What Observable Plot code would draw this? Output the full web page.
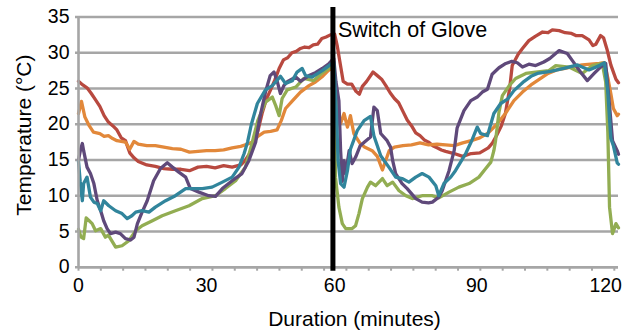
<!DOCTYPE html>
<html><head><meta charset="utf-8">
<script src="https://cdn.jsdelivr.net/npm/d3@7"></script>
<script src="https://cdn.jsdelivr.net/npm/@observablehq/plot@0.6"></script>
<style>html,body{margin:0;padding:0;background:#fff}#chart svg{display:block}</style>
</head><body><div id="chart"></div>
<script>
// [time (axis units), temperature °C]
const seriesRed = [[0,26],[1,25.5],[2,25.1],[3,24.3],[4,23.4],[5,22.5],[6,21.2],[7,20.3],[8,19.8],[9,19.2],[10,18.1],[11,17.7],[12,16.0],[13,15.3],[14,14.8],[16,14.3],[18,14.1],[20,13.8],[22,13.7],[24,13.7],[26,13.5],[28,14.0],[30,14.1],[32,13.9],[34,14.2],[36,14.0],[38,14.3],[39,14.9],[40,15.8],[41,17],[42,19],[43,21.5],[44,23.5],[45,24.8],[46,26.2],[47,27.8],[48,29],[49,29.3],[50,30],[51,30.2],[52,30.6],[53,30.8],[54,30.7],[55,31.1],[56,31.2],[57,32],[58,32.2],[59,32.5],[60,32.6],[60.6,31],[61.3,28.5],[62,26],[63,25.6],[64,25.6],[65,24.6],[65.8,24.2],[66.5,25.3],[67.5,26],[69,27.3],[70,26.8],[71,26.3],[72,25.4],[73,24.4],[74,23.6],[75,23],[76,21.8],[77,20.6],[78,19.8],[79,18.8],[80,18.4],[81,17.8],[82,17.5],[83,17],[84,16.7],[85,16.4],[86,16.2],[88,15.9],[90,15.5],[92,15.9],[94,16.0],[96,16.7],[97,17.4],[98,18.5],[99,19.7],[100,21.5],[101,25],[101.6,28.2],[103,29.8],[104,30.6],[105.5,31.7],[107,32.3],[108.7,32.9],[110,32.8],[111,33.2],[112.6,33.1],[114,32.8],[115.5,32.7],[116.5,32.4],[118,32.4],[119.6,31.8],[120.5,31],[121.2,31.2],[122.3,32.4],[123,32.1],[123.8,30.5],[124.7,28.3],[125.9,26.3],[126.5,25.8]];
const seriesOrange = [[0,21.5],[0.7,23.2],[1.5,21],[2.5,19.8],[3.5,18.9],[5,18.7],[6,18.3],[7,18.4],[8,18],[9,17.7],[10,17.6],[11,17.5],[12,16.5],[13,17.6],[14,17.2],[16,17.0],[18,17.0],[20,16.8],[22,16.6],[24,16.5],[26,16.1],[28,16.2],[30,16.3],[32,16.3],[34,16.4],[36,16.7],[38,16.9],[40,17.3],[41,17.6],[42,18.3],[43.5,18.9],[45,19.0],[46.5,19.2],[47.5,20.5],[48.5,22.2],[50,23.2],[52,24.5],[54,25.4],[55.5,25.9],[57,26.6],[58.5,27.5],[59.8,28],[60.4,24],[60.8,21.8],[61.4,20.1],[62.2,21.5],[63,19.6],[63.7,21.2],[64.5,18.7],[66,17.3],[67,16.8],[68.8,16.3],[70,15.5],[71.2,13.6],[72,15],[72.8,16.3],[74,16.8],[76,17.0],[78,17.1],[80,17.4],[82,17.1],[84,17.2],[86,17.1],[88,17.0],[90,17.4],[92,17.7],[94,18.1],[96,18.8],[98,20],[100,21.5],[102,23.3],[104,24.5],[106,25.5],[108,26.3],[110,27.1],[112,27.6],[114,27.8],[116,28.1],[118,28.3],[120,28.4],[122,28.5],[123.2,28.6],[124,26.5],[124.7,24.3],[125.3,22.2],[126.2,21.2],[126.5,21.4]];
const seriesPurple = [[0,15],[0.5,16.5],[0.9,17.3],[1.2,16.3],[2,14],[2.8,13.1],[3.6,11.7],[4.4,9.3],[5.2,7.9],[5.9,6.5],[6.7,5.4],[7.5,4.7],[8.7,4.9],[9.8,4.7],[11,4.0],[12.2,3.8],[13,4.2],[13.8,6.1],[14.9,7.7],[16.1,9.3],[17.6,12.1],[19.2,13.8],[20.8,14.6],[22,14.0],[23.5,13.3],[25.1,12.6],[26.2,11.0],[28.2,10.5],[30.5,10.0],[32.1,9.9],[33.7,11.0],[36,12.1],[38.3,13.1],[39.9,14.9],[41.5,17.5],[42.5,21],[43.8,24.5],[44.9,26.8],[45.8,27.3],[46.6,25.9],[47.3,24.3],[48.1,25.4],[49,26],[50.9,26.6],[52,26],[54,26.8],[55.5,27.2],[57.1,27.8],[58.7,28.5],[59.8,29.2],[60.3,26],[61,23.3],[61.4,16.3],[61.8,12],[62.2,14.9],[62.6,13.1],[63.4,16.3],[64.1,14.5],[65,15.5],[66,17],[67,17.5],[68.4,18.2],[69.2,22.4],[70,21.9],[70.8,18.7],[72.3,17.7],[73.1,16.8],[73.6,14.9],[74.3,13.1],[75.8,11.7],[77,11],[79,9.6],[80.5,9.1],[82,9.0],[82.9,9.1],[84.4,9.8],[85.2,10.7],[86.8,13.5],[88,16.3],[88.7,19.5],[90.3,21.9],[91.9,23.3],[93.4,23.8],[94.6,24.5],[95.8,24.9],[96.9,27],[98.5,27.9],[100.1,28.5],[101.5,28.8],[102.8,28.6],[104,28.0],[105.5,28.4],[107.1,28.2],[109,28.7],[110.4,29.2],[112.6,30.3],[114.5,29.9],[115.7,28.9],[117.6,27.3],[119.2,26.1],[120.8,27.1],[122.3,28],[123.5,28.5],[124.2,24],[125.1,17.7],[126.2,16.3],[126.5,15.8]];
const seriesTeal = [[0,14.8],[0.4,12],[0.9,9.3],[1.2,11.7],[2,12.6],[2.8,9.8],[3.6,9.1],[4.4,8.9],[5.2,7.9],[5.9,9.3],[7.1,8.6],[8.7,7.9],[10.2,7.5],[11.4,6.8],[12.5,7.2],[13.4,7.7],[14.9,7.9],[16.5,7.7],[18,8.4],[20.4,9.3],[22.7,10],[25.1,11.0],[26.6,11.0],[29,11.0],[31.3,11.2],[33.7,11.9],[36,12.6],[37.6,14.0],[38.8,15.9],[39.6,17.5],[40.5,20],[41.9,22.9],[43.8,24.8],[45.4,25.4],[47.3,26.7],[48.5,25.7],[50.1,26.1],[51.2,27.3],[52.4,27.8],[53.2,26.8],[54.7,26.6],[57.1,27.5],[58.7,28.2],[59.8,28.7],[60.4,22],[60.8,15],[61.4,11.7],[62.2,11.2],[63,13.5],[63.7,16.5],[65.3,19.1],[66.9,20.5],[68.4,21.1],[69.2,18.4],[69.6,17.7],[70.8,15.6],[72.7,14],[74.3,12.6],[75.8,12.4],[77.4,11.9],[79,12.6],[80.5,13.1],[82.1,12.6],[83.7,11.4],[84.4,10.0],[85.6,11.7],[87.2,12.6],[88.3,13.5],[89.5,14.7],[90.7,15.9],[92.2,17.8],[93.4,19.6],[94.2,18.7],[95.8,18.4],[97.3,21.5],[98.9,22.9],[100.5,23.5],[102,24.7],[104.4,26.0],[106,26.7],[107.5,27.1],[110.6,27.4],[113.7,27.8],[116.9,28.3],[119.6,27.6],[122,28.2],[123.2,28.6],[124,24.5],[124.7,18],[125.3,17],[126.2,14.6],[126.5,14.4]];
const seriesGreen = [[0,5.3],[0.6,4.2],[1.2,4.0],[1.8,6.9],[2.5,6.5],[3.2,6.1],[4,5.1],[5.2,5.4],[6.3,4.2],[7,4.5],[8.7,2.8],[10.2,3.0],[11.8,3.7],[13.4,5.1],[14.9,5.8],[17.3,6.5],[19.6,7.2],[22.7,7.9],[25.9,8.6],[29,9.6],[32.1,10],[34.4,11.0],[36.8,12.1],[39.1,14.0],[40.5,17],[42,20.5],[43.8,23.1],[45.4,23.8],[46.2,22.6],[47,21.2],[47.7,23.6],[48.9,24.8],[50.9,25.2],[52.8,26.4],[55.1,26.1],[57.1,27.2],[59.1,28.0],[59.8,28.3],[60.2,12.6],[60.6,10.5],[61,8.4],[61.8,6.1],[62.6,5.4],[64.1,5.4],[64.9,5.8],[65.7,7.5],[66.5,9.6],[67.7,11.2],[68.4,11.9],[69.6,11.4],[71.2,12.4],[72.3,11.4],[73.6,11.9],[75.1,10.7],[76.7,10.0],[78.2,9.6],[80.5,10.0],[82.9,10.0],[84.4,9.7],[86.8,10.5],[89.1,11.2],[91.5,11.7],[93.8,12.6],[95.4,13.8],[96.6,14.7],[97.3,16.3],[97.7,17.7],[98.5,21.7],[99.3,24],[100.9,25.4],[102.4,26.4],[104.8,27.1],[107.1,27.3],[110.2,27.5],[111.8,28.2],[114.9,28.0],[118,27.1],[120.4,28.2],[122.7,28.5],[123.5,25.9],[124,18.9],[124.4,8.4],[125.1,4.7],[125.9,6.1],[126.5,5.5]];

const yTicks = [0, 5, 10, 15, 20, 25, 30, 35];
const xTickPos = [0, 30, 60, 93.3, 123.5];
const xTickLabels = ["0", "30", "60", "90", "120"];
const minorTicks = d3.range(0, 127, 5.23);
const switchTime = [59.6];
const switchLabel = "Switch of Glove";
const yTitle = "Temperature (°C)";
const xTitle = "Duration (minutes)";

const seriesList = [
  {name: "red", color: "#B8493F", data: seriesRed},
  {name: "orange", color: "#E2883A", data: seriesOrange},
  {name: "green", color: "#92AD52", data: seriesGreen},
  {name: "purple", color: "#5F497A", data: seriesPurple},
  {name: "teal", color: "#31859C", data: seriesTeal}
];

const gray = "#a6a6a6";
const chart = Plot.plot({
  width: 629, height: 330,
  marginLeft: 78, marginRight: 11, marginTop: 16.5, marginBottom: 63.3,
  style: {fontFamily: "'Liberation Sans', Arial, sans-serif", background: "#fff", color: "#000", overflow: "visible"},
  x: {domain: [0, 126.5], axis: null},
  y: {domain: [0, 35], axis: null},
  marks: [
    Plot.ruleY(yTicks, {stroke: gray, strokeWidth: 2.6, insetLeft: -3}),
    Plot.axisX(minorTicks, {tickSize: 4, tickFormat: () => "", stroke: gray, strokeWidth: 2}),
    ...seriesList.map(s => Plot.line(s.data, {x: d => d[0], y: d => d[1], stroke: s.color, strokeWidth: 3.3, strokeLinejoin: "round"})),
    Plot.ruleX([0], {stroke: gray, strokeWidth: 2.6}),
    Plot.ruleY([0], {stroke: gray, strokeWidth: 2.6}),
    Plot.ruleX(switchTime, {stroke: "#000", strokeWidth: 5, insetTop: -9.5, insetBottom: -4}),
    Plot.text([switchLabel], {x: switchTime[0], y: 35, dx: 5, dy: 13.5, textAnchor: "start", fontSize: 21.5, fill: "#000"}),
    Plot.axisY(yTicks, {tickSize: 0, tickPadding: 9, fontSize: 19.5, label: null}),
    Plot.axisX(xTickPos, {tickSize: 0, tickPadding: 11, fontSize: 19.5, label: null, tickFormat: d => xTickLabels[xTickPos.indexOf(d)]}),
    Plot.text([yTitle], {frameAnchor: "left", textAnchor: "middle", lineAnchor: "middle", rotate: -90, dx: -54, dy: -7, fontSize: 21, fill: "#000"}),
    Plot.text([xTitle], {frameAnchor: "bottom", textAnchor: "middle", lineAnchor: "middle", dx: 6, dy: 52, fontSize: 21, fill: "#000"})
  ]
});
document.getElementById("chart").appendChild(chart);
</script></body></html>
